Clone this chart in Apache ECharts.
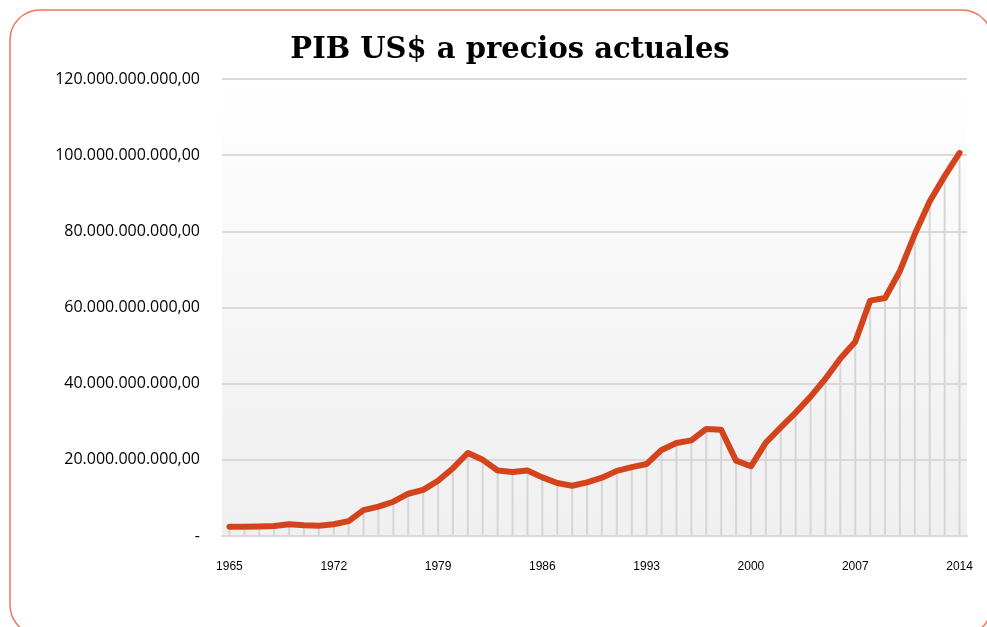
<!DOCTYPE html>
<html>
<head>
<meta charset="utf-8">
<script src="https://cdn.jsdelivr.net/npm/echarts@6/dist/echarts.min.js"></script>
<style>
  html, body { margin: 0; padding: 0; background: #ffffff; }
  #chart { width: 987px; height: 627px; }
</style>
</head>
<body>
<div id="chart"></div>
<script>
// Years shown on the category axis
const years = [];
for (let y = 1965; y <= 2014; y++) years.push(String(y));

// GDP in current US$ (billions), one value per year 1965–2014
const gdpBillions = [
  2.4, 2.4, 2.5, 2.6, 3.1, 2.8, 2.7, 3.1, 3.9, 6.8,
  7.7, 9.0, 11.1, 12.1, 14.5, 17.8, 21.8, 20.0, 17.2, 16.8,
  17.2, 15.4, 13.9, 13.2, 14.1, 15.3, 17.1, 18.1, 18.9, 22.6,
  24.4, 25.1, 28.1, 27.9, 19.8, 18.3, 24.5, 28.5, 32.4, 36.6,
  41.3, 46.6, 51.0, 61.8, 62.5, 69.6, 79.3, 87.9, 94.5, 100.6
];
const gdpValues = gdpBillions.map(v => v * 1e9);

// Y axis ticks
const yMin = 0;
const yMax = 120e9;
const yStep = 20e9;

function formatThousands(v) {
  if (v === 0) return '-';
  const parts = Math.round(v).toString().replace(/\B(?=(\d{3})+(?!\d))/g, '.');
  return parts + ',00';
}

const chart = echarts.init(document.getElementById('chart'), null, { renderer: 'canvas' });

chart.setOption({
  animation: false,
  backgroundColor: '#ffffff',
  title: {
    text: 'PIB US$ a precios actuales',
    left: 505,
    top: 31,
    textAlign: 'center',
    textStyle: {
      fontFamily: 'DejaVu Serif',
      fontWeight: 'bold',
      fontSize: 29,
      color: '#000000'
    }
  },
  graphic: [{
    type: 'rect',
    shape: { x: 10, y: 10, width: 982, height: 625, r: 30 },
    style: { fill: 'none', stroke: '#f0775a', lineWidth: 1.5 },
    z: 10
  }],
  grid: {
    left: 222,
    right: 20,
    top: 79,
    bottom: 91,
    show: true,
    borderWidth: 0,
    backgroundColor: new echarts.graphic.LinearGradient(0, 0, 0, 1, [
      { offset: 0, color: '#ffffff' },
      { offset: 0.75, color: '#f2f2f2' },
      { offset: 1, color: '#f0f0f0' }
    ])
  },
  xAxis: {
    type: 'category',
    data: years,
    boundaryGap: true,
    axisLine: { show: true, lineStyle: { color: '#d9d9d9', width: 2 } },
    axisTick: { show: false },
    axisLabel: {
      interval: 6,
      margin: 25,
      fontFamily: 'Liberation Sans',
      fontSize: 12,
      color: '#000000'
    },
    splitLine: { show: false }
  },
  yAxis: {
    type: 'value',
    min: yMin,
    max: yMax,
    interval: yStep,
    axisLine: { show: false },
    axisTick: { show: false },
    axisLabel: {
      margin: 22,
      fontFamily: 'Open Sans',
      fontSize: 16,
      color: '#000000',
      formatter: formatThousands
    },
    splitLine: { show: true, lineStyle: { color: '#d9d9d9', width: 2 } }
  },
  series: [
    {
      // drop lines from each point down to the axis
      type: 'bar',
      data: gdpValues,
      barWidth: 2,
      itemStyle: { color: '#d6d6d6' },
      silent: true,
      z: 1
    },
    {
      type: 'line',
      data: gdpValues,
      symbol: 'none',
      lineStyle: { color: '#d4441c', width: 6, cap: 'round', join: 'round' },
      z: 3
    }
  ]
});
</script>
</body>
</html>
